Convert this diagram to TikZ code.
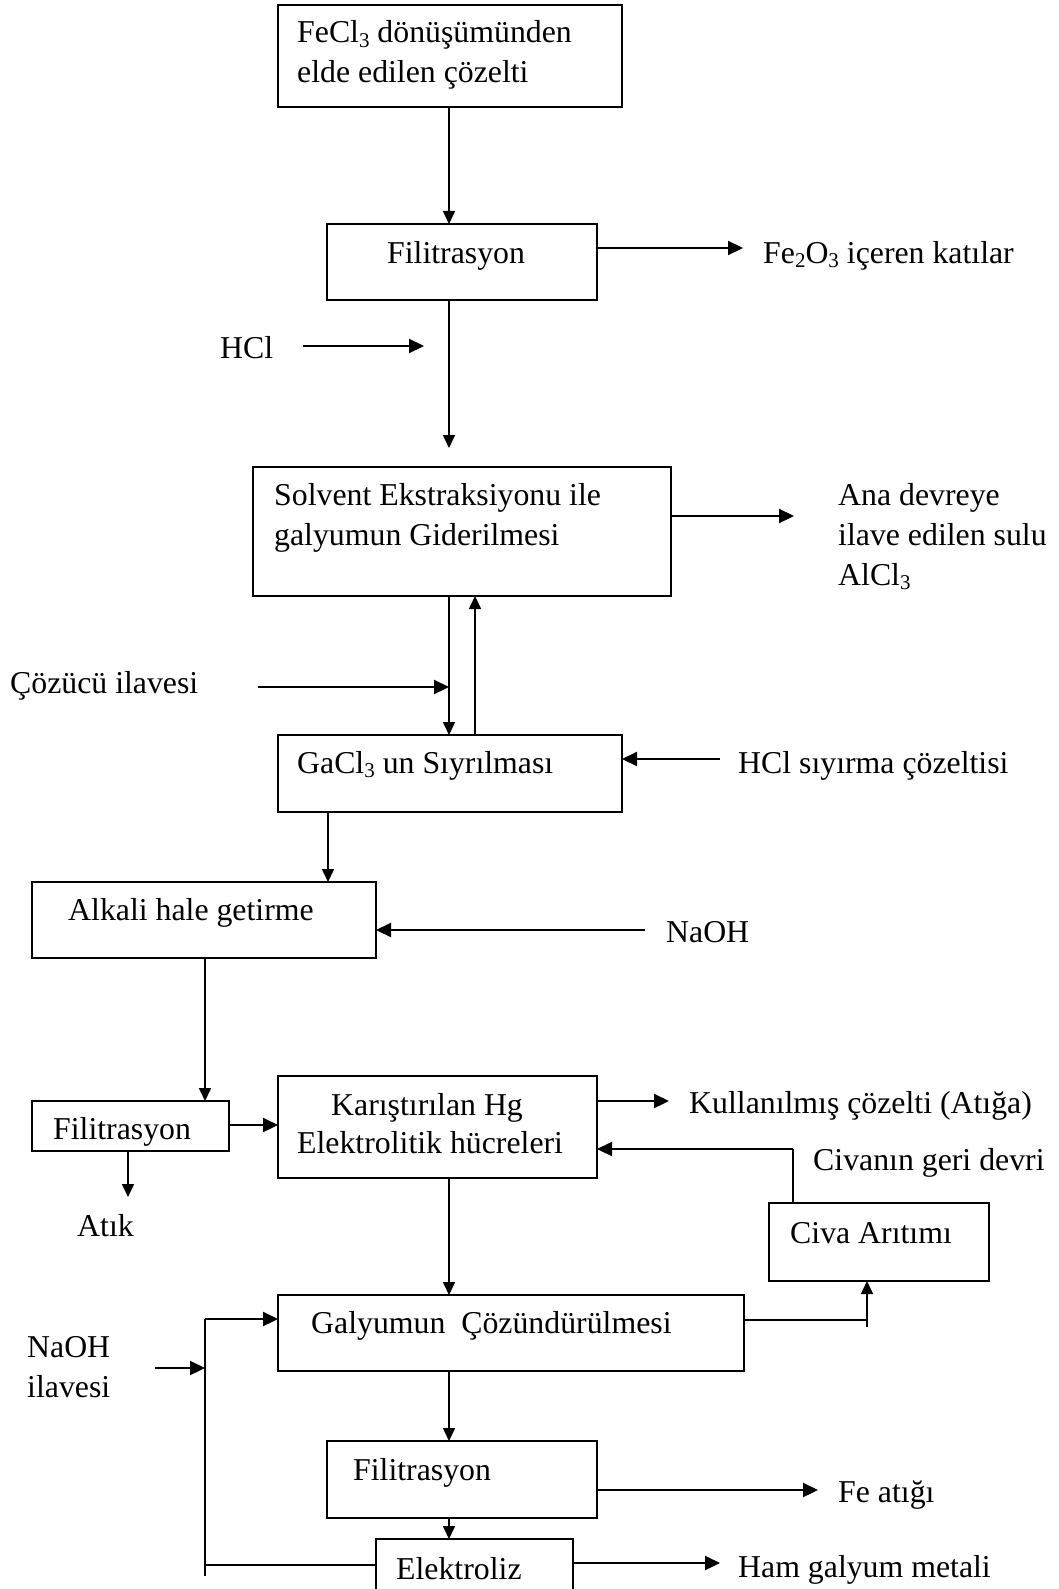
\documentclass[tikz,border=0pt]{standalone}
\usepackage{fontspec}
\setmainfont{Liberation Serif}
\usetikzlibrary{arrows.meta}
\newcommand{\sbs}[1]{\raisebox{-0.13em}{\fontsize{21}{21}\selectfont #1}}
\newcommand{\mlines}[1]{\begin{tabular}[t]{@{}l@{}}#1\end{tabular}}
\begin{document}
\begin{tikzpicture}[x=1pt,y=-1pt,
  box/.style={draw,line width=1.5pt,inner sep=0pt,outer sep=0pt,anchor=north west},
  txt/.style={anchor=base west,inner sep=0pt,font=\fontsize{31.8}{40}\selectfont},
  varr/.style={draw,line width=1.6pt,-{Triangle[length=13pt,width=12pt]}},
  harr/.style={draw,line width=2.2pt,-{Triangle[length=15pt,width=14pt]}},
  plain/.style={draw,line width=1.6pt}]
\clip (0,0) rectangle (1059,1589);
\fill[white] (0,0) rectangle (1059,1589);
% boxes
\node[box,minimum width=344pt,minimum height=102pt] (b1) at (278,5) {};
\node[box,minimum width=270pt,minimum height=76pt] (b2) at (327,224) {};
\node[box,minimum width=418pt,minimum height=129pt] (b3) at (253,467) {};
\node[box,minimum width=344pt,minimum height=77pt] (b4) at (278,735) {};
\node[box,minimum width=344pt,minimum height=76pt] (b5) at (32,882) {};
\node[box,minimum width=197pt,minimum height=50pt] (b6) at (32,1101) {};
\node[box,minimum width=319pt,minimum height=102pt] (b7) at (278,1076) {};
\node[box,minimum width=220pt,minimum height=78pt] (bc) at (769,1203) {};
\node[box,minimum width=466pt,minimum height=76pt] (b8) at (278,1295) {};
\node[box,minimum width=270pt,minimum height=77pt] (b9) at (327,1441) {};
\node[box,minimum width=197pt,minimum height=90pt] (b10) at (376,1539) {};
% texts
\node[txt] (t1) at (297,43) {\mlines{FeCl\sbs{3} dönüşümünden\\elde edilen çözelti}};
\node[txt] (t2) at (387,263) {Filitrasyon};
\node[txt] (t3) at (763,263) {Fe\sbs{2}O\sbs{3} içeren katılar};
\node[txt] (t4) at (220,358) {HCl};
\node[txt] (t5) at (274,505) {\mlines{Solvent Ekstraksiyonu ile\\galyumun Giderilmesi}};
\node[txt] (t6) at (838,505) {\mlines{Ana devreye\\ilave edilen sulu\\AlCl\sbs{3}}};
\node[txt] (t7) at (10,693) {Çözücü ilavesi};
\node[txt] (t8) at (297,773) {GaCl\sbs{3} un Sıyrılması};
\node[txt] (t9) at (738,773) {HCl sıyırma çözeltisi};
\node[txt] (t10) at (68,920) {Alkali hale getirme};
\node[txt] (t11) at (666,942) {NaOH};
\node[txt] (t12) at (53,1139) {Filitrasyon};
\node[txt] (t13) at (77,1236) {Atık};
\node[txt] (t14) at (331,1115) {Karıştırılan Hg};
\node[txt] (t15) at (297,1153) {Elektrolitik hücreleri};
\node[txt] (t16) at (689,1113) {Kullanılmış çözelti (Atığa)};
\node[txt] (t17) at (813,1170) {Civanın geri devri};
\node[txt] (t18) at (790,1243) {Civa Arıtımı};
\node[txt] (t19) at (311,1333) {Galyumun\ \ Çözündürülmesi};
\node[txt] (t20) at (27,1357) {\mlines{NaOH\\ilavesi}};
\node[txt] (t21) at (353,1480) {Filitrasyon};
\node[txt] (t22) at (838,1502) {Fe atığı};
\node[txt] (t23) at (396,1579) {Elektroliz};
\node[txt] (t24) at (738,1577) {Ham galyum metali};
% reference coordinates
\coordinate (X449) at (449,0);
\coordinate (X475) at (475,0);
\coordinate (X328) at (328,0);
\coordinate (X205) at (205,0);
\coordinate (X128) at (128,0);
\coordinate (X793) at (793,0);
\coordinate (X867) at (867,0);
\coordinate (Y1125) at (0,1125);
\coordinate (Y1149) at (0,1149);
\coordinate (Y1320) at (0,1320);
\coordinate (Y1327) at (0,1327);
\coordinate (Y1319) at (0,1319);
\coordinate (Y1565) at (0,1565);
\coordinate (Y1576) at (0,1576);
\coordinate (efe) at (743,248);
\coordinate (shcl) at (303,346);
\coordinate (ehcl) at (424,346);
\coordinate (e4) at (449,448);
\coordinate (eana) at (794,516);
\coordinate (s8) at (258,687);
\coordinate (s9) at (720,759);
\coordinate (s11) at (645,930);
\coordinate (eatik) at (128,1197);
\coordinate (e15) at (669,1101);
\coordinate (s19) at (155,1368);
\coordinate (e22) at (818,1490);
\coordinate (e24) at (720,1563);
% connectors
\draw[varr] (b1.south -| X449) -- (b2.north -| X449);
\draw[harr] (b2.east |- efe) -- (efe);
\draw[harr] (shcl) -- (ehcl);
\draw[varr] (b2.south -| X449) -- (e4);
\draw[harr] (b3.east |- eana) -- (eana);
\draw[varr] (b3.south -| X449) -- (b4.north -| X449);
\draw[varr] (b4.north -| X475) -- (b3.south -| X475);
\draw[harr] (s8) -- (X449 |- s8);
\draw[harr] (s9) -- (b4.east |- s9);
\draw[varr] (b4.south -| X328) -- (b5.north -| X328);
\draw[harr] (s11) -- (b5.east |- s11);
\draw[varr] (b5.south -| X205) -- (b6.north -| X205);
\draw[harr] (b6.east |- Y1125) -- (b7.west |- Y1125);
\draw[varr] (b6.south -| X128) -- (eatik);
\draw[harr] (b7.east |- e15) -- (e15);
\draw[plain] (bc.north -| X793) -- (X793 |- Y1149);
\draw[harr] (X793 |- Y1149) -- (b7.east |- Y1149);
\draw[varr] (b7.south -| X449) -- (b8.north -| X449);
\draw[plain] (b8.east |- Y1320) -- (X867 |- Y1320);
\draw[varr] (X867 |- Y1327) -- (bc.south -| X867);
\draw[harr] (s19) -- (X205 |- s19);
\draw[plain] (X205 |- Y1576) -- (X205 |- Y1319);
\draw[harr] (X205 |- Y1319) -- (b8.west |- Y1319);
\draw[plain] (X205 |- Y1565) -- (b10.west |- Y1565);
\draw[varr] (b8.south -| X449) -- (b9.north -| X449);
\draw[harr] (b9.east |- e22) -- (e22);
\draw[varr] (b9.south -| X449) -- (b10.north -| X449);
\draw[harr] (b10.east |- e24) -- (e24);
\end{tikzpicture}
\end{document}
